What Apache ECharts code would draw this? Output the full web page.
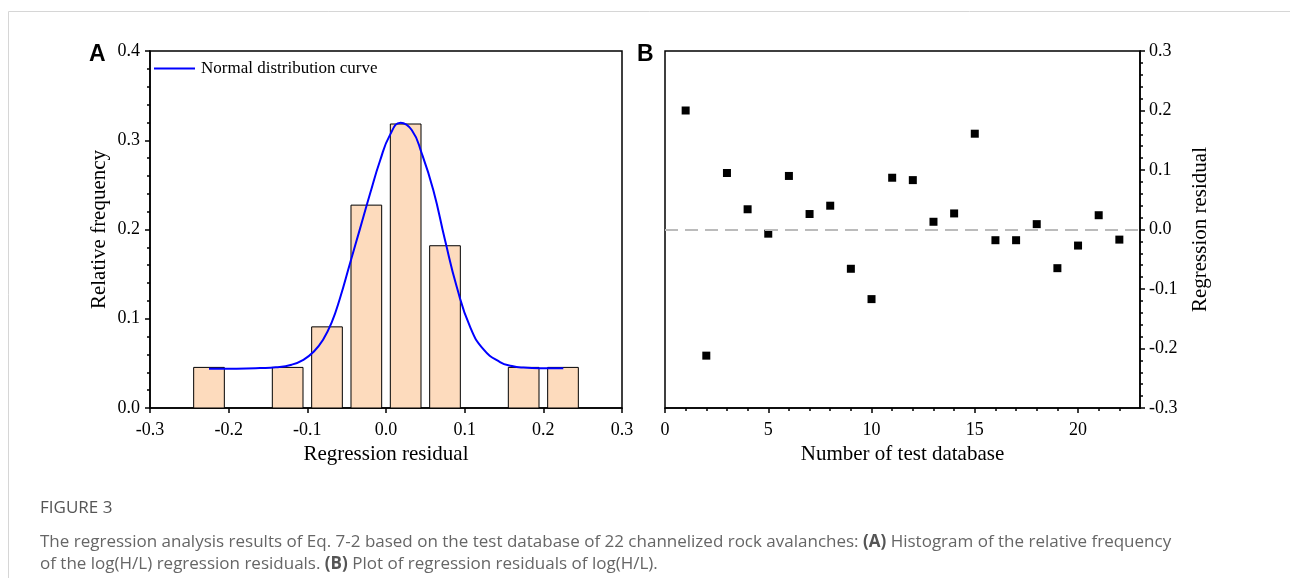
<!DOCTYPE html>
<html>
<head>
<meta charset="utf-8">
<script src="https://cdn.jsdelivr.net/npm/echarts@6/dist/echarts.min.js"></script>
<style>
  html, body { margin: 0; padding: 0; background: #fff; }
  #chart { width: 1290px; height: 578px; }
</style>
</head>
<body>
<div id="chart"></div>
<script>
// ---------- Data ----------
// Panel A: histogram of regression residuals (bin centres and relative frequencies)
const binCenters = [-0.225, -0.125, -0.075, -0.025, 0.025, 0.075, 0.175, 0.225];
const binFreq    = [0.0455, 0.0455, 0.0909, 0.2273, 0.3182, 0.1818, 0.0455, 0.0455];
// Panel A: normal distribution curve
const curveX = [-0.225, -0.19, -0.16, -0.14, -0.12, -0.105, -0.092, -0.08, -0.069, -0.0585, -0.0458, -0.033, -0.0203, -0.0076, 0.0051, 0.0185, 0.0327, 0.0454, 0.0601, 0.075, 0.0899, 0.1068, 0.1237, 0.1449, 0.16, 0.1746, 0.2, 0.2254];
const curveY = [0.0440, 0.0441, 0.0447, 0.0456, 0.0485, 0.0540, 0.0630, 0.0765, 0.0960, 0.1230, 0.1620, 0.2010, 0.2400, 0.2770, 0.3060, 0.3197, 0.3115, 0.2854, 0.2443, 0.1882, 0.1359, 0.0911, 0.0660, 0.0515, 0.0470, 0.0453, 0.0446, 0.0445];
// Panel B: regression residual of each test case
const sampleNo  = [1, 2, 3, 4, 5, 6, 7, 8, 9, 10, 11, 12, 13, 14, 15, 16, 17, 18, 19, 20, 21, 22];
const residuals = [0.200, -0.212, 0.095, 0.034, -0.007, 0.090, 0.026, 0.040, -0.066, -0.117, 0.087, 0.083, 0.013, 0.027, 0.161, -0.018, -0.018, 0.009, -0.065, -0.027, 0.024, -0.017];
// Tick labels
const ticksAX = [-0.3, -0.2, -0.1, 0.0, 0.1, 0.2, 0.3];
const ticksAY = [0.0, 0.1, 0.2, 0.3, 0.4];
const ticksBX = [0, 5, 10, 15, 20];
const ticksBY = [-0.3, -0.2, -0.1, 0.0, 0.1, 0.2, 0.3];

// ---------- Styling constants ----------
const SERIF = "'Liberation Serif', 'Times New Roman', serif";
const SANS = "'Open Sans', 'Noto Sans', sans-serif";
const BAR_HALF = 0.0195;
const minorBX = [];
for (let i = 1; i < 23; i++) if (ticksBX.indexOf(i) < 0) minorBX.push(i);

const fmt1 = v => (Math.abs(v) < 1e-9 ? 0 : v).toFixed(1);
const axisText = { color: '#000', fontFamily: SERIF, fontSize: 18 };
const nameText = { color: '#000', fontFamily: SERIF, fontSize: 21 };
const blackLine = { color: '#000', width: 1.5 };

const chart = echarts.init(document.getElementById('chart'), null, { renderer: 'canvas' });

const option = {
  animation: false,
  backgroundColor: '#fff',
  grid: [
    { left: 150, top: 51, width: 472, height: 357, show: true, borderColor: '#000', borderWidth: 1.5, backgroundColor: 'transparent' },
    { left: 665, top: 51, width: 475, height: 357, show: true, borderColor: '#000', borderWidth: 1.5, backgroundColor: 'transparent' }
  ],
  legend: {
    data: [{ name: 'Normal distribution curve', icon: 'rect' }],
    left: 154, top: 60, padding: 0,
    itemWidth: 41, itemHeight: 2, itemGap: 4,
    itemStyle: { color: '#0000FF' },
    textStyle: { color: '#000', fontFamily: SERIF, fontSize: 17, padding: [0, 0, 0, 1] }
  },
  xAxis: [
    {
      gridIndex: 0, type: 'value', min: -0.3, max: 0.3, interval: 0.1,
      axisLine: { show: true, onZero: false, lineStyle: blackLine },
      axisTick: { show: true, inside: false, length: 5, lineStyle: blackLine, customValues: ticksAX },
      axisLabel: Object.assign({ margin: 13, formatter: fmt1, customValues: ticksAX, showMinLabel: true, showMaxLabel: true }, axisText),
      splitLine: { show: false },
      name: 'Regression residual', nameLocation: 'middle', nameGap: 31, nameTextStyle: nameText
    },
    {
      gridIndex: 1, type: 'value', min: 0, max: 23, position: 'bottom',
      axisLine: { show: true, onZero: false, lineStyle: blackLine },
      axisTick: { show: true, inside: false, length: 5, lineStyle: blackLine, customValues: ticksBX },
      axisLabel: Object.assign({ margin: 13, customValues: ticksBX }, axisText),
      splitLine: { show: false },
      name: 'Number of test database', nameLocation: 'middle', nameGap: 31, nameTextStyle: nameText
    },
    {
      gridIndex: 1, type: 'value', min: 0, max: 23, position: 'bottom', offset: 0,
      axisLine: { show: false, onZero: false },
      axisTick: { show: true, inside: false, length: 3, lineStyle: blackLine, customValues: minorBX },
      axisLabel: { show: false },
      splitLine: { show: false }
    }
  ],
  yAxis: [
    {
      gridIndex: 0, type: 'value', min: 0, max: 0.4, interval: 0.1,
      axisLine: { show: true, onZero: false, lineStyle: blackLine },
      axisTick: { show: true, inside: false, length: 5, lineStyle: blackLine },
      minorTick: { show: true, splitNumber: 5, length: 3, lineStyle: { color: '#000', width: 1.5 } },
      axisLabel: Object.assign({ margin: 10, formatter: fmt1 }, axisText),
      splitLine: { show: false }, minorSplitLine: { show: false },
      name: 'Relative frequency', nameLocation: 'middle', nameGap: 40, nameRotate: 90, nameTextStyle: nameText
    },
    {
      gridIndex: 1, type: 'value', min: -0.3, max: 0.3, interval: 0.1, position: 'right',
      axisLine: { show: true, onZero: false, lineStyle: blackLine },
      axisTick: { show: true, inside: false, length: 5, lineStyle: blackLine },
      minorTick: { show: true, splitNumber: 5, length: 3, lineStyle: { color: '#000', width: 1.5 } },
      axisLabel: Object.assign({ margin: 9, formatter: fmt1 }, axisText),
      splitLine: { show: false }, minorSplitLine: { show: false },
      name: 'Regression residual', nameLocation: 'middle', nameGap: 50, nameRotate: 90, nameTextStyle: nameText
    }
  ],
  series: [
    {
      name: 'Histogram', type: 'custom', xAxisIndex: 0, yAxisIndex: 0, z: 2,
      data: binCenters.map((c, i) => [c, binFreq[i]]),
      renderItem: function (params, api) {
        const c = api.value(0), f = api.value(1);
        const p0 = api.coord([c - BAR_HALF, 0]);
        const p1 = api.coord([c + BAR_HALF, f]);
        return {
          type: 'rect',
          shape: { x: p0[0], y: p1[1], width: p1[0] - p0[0], height: p0[1] - p1[1] },
          style: { fill: '#FDDBBD', stroke: '#000', lineWidth: 1 }
        };
      }
    },
    {
      name: 'Normal distribution curve', type: 'line', xAxisIndex: 0, yAxisIndex: 0, z: 3,
      data: curveX.map((x, i) => [x, curveY[i]]),
      smooth: 0.5, symbol: 'none', showSymbol: false,
      lineStyle: { color: '#0000FF', width: 2 }, itemStyle: { color: '#0000FF' }
    },
    {
      name: 'Residuals', type: 'scatter', xAxisIndex: 1, yAxisIndex: 1, z: 3,
      data: sampleNo.map((n, i) => [n, residuals[i]]),
      symbol: 'rect', symbolSize: 8,
      itemStyle: { color: '#000', opacity: 1 },
      markLine: {
        silent: true, symbol: 'none', label: { show: false },
        lineStyle: { color: '#BBBBBB', type: [13, 7], width: 2 },
        data: [{ yAxis: 0 }]
      }
    }
  ],
  graphic: [
    { type: 'line', silent: true, shape: { x1: 8.5, y1: 11.5, x2: 1290, y2: 11.5 }, style: { stroke: '#D6D6D6', lineWidth: 1 } },
    { type: 'line', silent: true, shape: { x1: 8.5, y1: 11.5, x2: 8.5, y2: 578 }, style: { stroke: '#D6D6D6', lineWidth: 1 } },
    { type: 'text', left: 89, top: 43, style: { text: 'A', fill: '#000', font: "bold 23px 'Liberation Sans', Arial, sans-serif" } },
    { type: 'text', left: 637, top: 43, style: { text: 'B', fill: '#000', font: "bold 23px 'Liberation Sans', Arial, sans-serif" } },
    { type: 'text', left: 40, top: 500, style: { text: 'FIGURE 3', fill: '#555', font: "500 17px " + SANS } },
    {
      type: 'text', left: 40, top: 534,
      style: {
        text: 'The regression analysis results of Eq. 7-2 based on the test database of 22 channelized rock avalanches: {b|(A)} Histogram of the relative frequency',
        fill: '#666', font: "17px " + SANS,
        rich: { b: { fontWeight: 'bold', fill: '#555', fontFamily: SANS, fontSize: 17 } }
      }
    },
    {
      type: 'text', left: 40, top: 556,
      style: {
        text: 'of the log(H/L) regression residuals. {b|(B)} Plot of regression residuals of log(H/L).',
        fill: '#666', font: "17px " + SANS,
        rich: { b: { fontWeight: 'bold', fill: '#555', fontFamily: SANS, fontSize: 17 } }
      }
    }
  ]
};

chart.setOption(option);
</script>
</body>
</html>
